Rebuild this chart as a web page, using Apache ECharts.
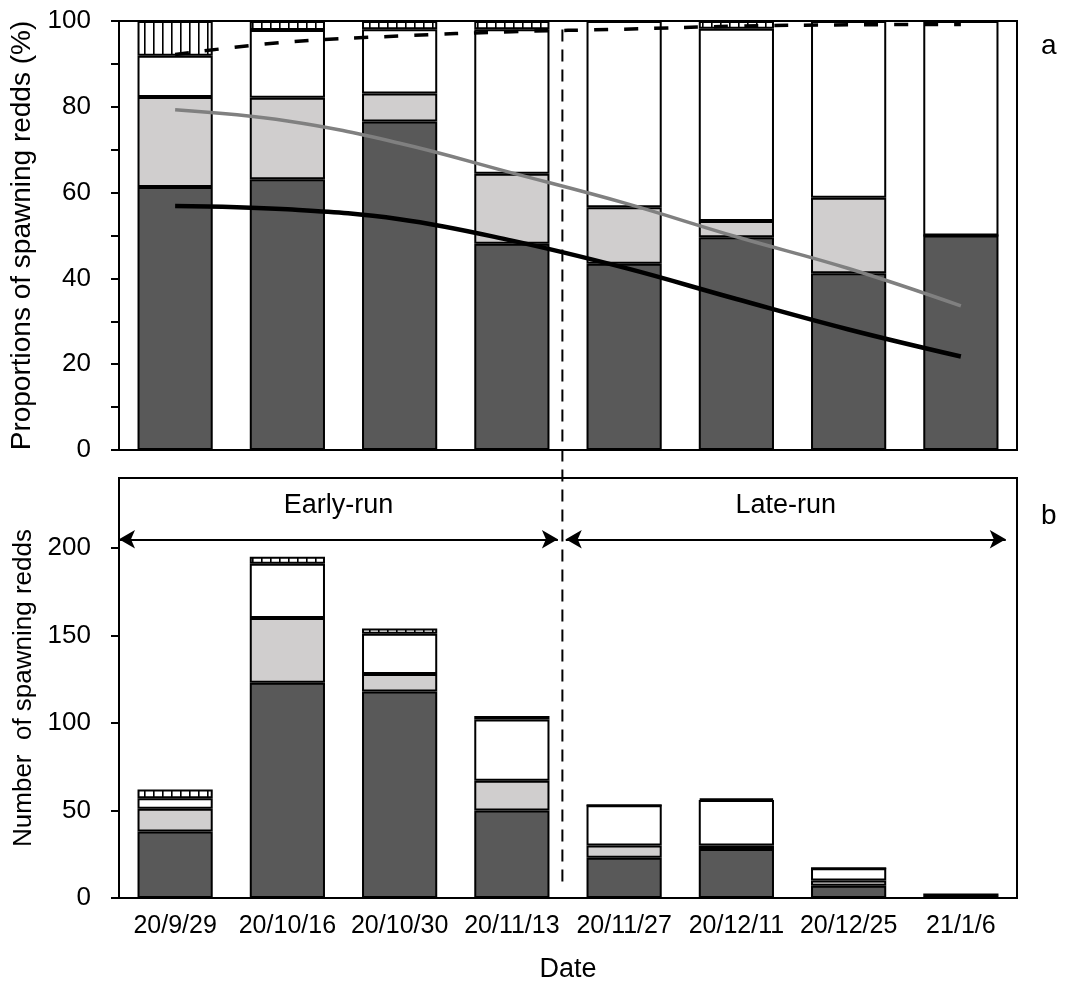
<!DOCTYPE html>
<html><head><meta charset="utf-8">
<script src="https://cdn.jsdelivr.net/npm/echarts@6/dist/echarts.min.js"></script>
<style>html,body{margin:0;padding:0;background:#fff}#c{width:1079px;height:986px}</style>
</head><body><div id="c"></div>
<script>
// ---- data ----
const categories = ['20/9/29','20/10/16','20/10/30','20/11/13','20/11/27','20/12/11','20/12/25','21/1/6'];
// panel a: proportions (%) per stacked segment
const propDark    = [61.3, 63.1, 76.6, 48.1, 43.4, 49.6, 41.2, 50.0];
const propLight   = [21.0, 19.0,  6.5, 16.3, 13.2,  3.8, 17.6,  0];
const propWhite   = [ 9.6, 15.8, 15.0, 33.7, 43.4, 44.8, 41.2, 50.0];
const propHatched = [ 8.1,  2.1,  1.9,  1.9,  0,    1.8,  0,    0];
// panel a: fitted curves (%)
const lineBlack  = [56.9, 56.1, 53.8, 48.8, 42.5, 35.2, 28.1, 21.8];
const lineGray   = [79.3, 76.7, 71.5, 64.6, 57.6, 49.7, 42.3, 33.6];
const lineDashed = [92.2, 95.1, 96.5, 97.5, 98.1, 98.8, 99.1, 99.2];
// panel b: counts per stacked segment
const cntDark    = [38, 123, 118, 50, 23, 28, 7, 1];
const cntLight   = [13,  37,  10, 17,  7,  2, 3, 0];
const cntWhite   = [ 6,  31,  23, 35, 23, 26, 7, 1];
const cntHatched = [ 5,   4,   3,  2,  0,  1, 0, 0];
// annotations (value-axis positions, category index units)
const runLabels = ['Early-run', 'Late-run'];
const earlyRange = [-0.5, 3.41];
const lateRange  = [3.48, 7.40];
const arrowY = 205;
const dividerX = 3.45;
const dividerTopPct = 98;
const dividerBottomCnt = 5;
const yTicksA = [0,10,20,30,40,50,60,70,80,90,100];
const yLabelsA = [0,20,40,60,80,100];
const yTicksB = [0,50,100,150,200];

// ---- chart ----
const FONT = '"Liberation Sans", Arial, sans-serif';
const chart = echarts.init(document.getElementById('c'), null, {renderer:'canvas'});

function hatchPattern(){
  const c = document.createElement('canvas');
  c.width = 9; c.height = 9;
  const ctx = c.getContext('2d');
  ctx.fillStyle = '#fff'; ctx.fillRect(0,0,9,9);
  ctx.fillStyle = '#000'; ctx.fillRect(0,0,1.6,9);
  return {image: c, repeat: 'repeat'};
}
const HATCH = hatchPattern();
const COLORS = ['#595959', '#d0cece', '#ffffff', HATCH];

function barSeries(name, data, color, stack, xi, yi){
  return {type:'bar', name, data, stack, xAxisIndex:xi, yAxisIndex:yi, barWidth:'67%',
    itemStyle:{color, borderColor:'#000', borderWidth:2}, z:2, silent:true};
}
const axisLineStyle = {color:'#000', width:2};

const option = {
  animation:false,
  backgroundColor:'#fff',
  textStyle:{fontFamily:FONT, color:'#000'},
  title:[
    {text:'a', left:1036, top:27, textStyle:{fontSize:28, fontWeight:'normal', fontFamily:FONT, color:'#000'}},
    {text:'b', left:1036, top:497, textStyle:{fontSize:28, fontWeight:'normal', fontFamily:FONT, color:'#000'}}
  ],
  grid:[
    {left:119, top:21, width:898, height:429, show:true, borderColor:'#000', borderWidth:2, backgroundColor:'transparent'},
    {left:119, top:478, width:898, height:420, show:true, borderColor:'#000', borderWidth:2, backgroundColor:'transparent'}
  ],
  xAxis:[
    {gridIndex:0, type:'category', data:categories, axisTick:{show:false}, axisLabel:{show:false},
      axisLine:{onZero:false, lineStyle:axisLineStyle}},
    {gridIndex:1, type:'category', data:categories, axisTick:{show:false},
      axisLabel:{interval:0, hideOverlap:false, fontSize:25, color:'#000', margin:16, fontFamily:FONT},
      axisLine:{onZero:false, lineStyle:axisLineStyle},
      name:'Date', nameLocation:'middle', nameGap:58, nameTextStyle:{fontSize:27, color:'#000', fontFamily:FONT}},
    {gridIndex:1, type:'value', min:-0.5, max:7.5, show:false},
  ],
  yAxis:[
    {gridIndex:0, type:'value', min:0, max:100, splitLine:{show:false},
      axisLine:{show:true, onZero:false, lineStyle:axisLineStyle},
      axisTick:{show:true, length:8, customValues:yTicksA, lineStyle:{color:'#000', width:2}},
      axisLabel:{customValues:yLabelsA, fontSize:26, color:'#000', margin:28, fontFamily:FONT},
      name:'Proportions of spawning redds (%)', nameLocation:'middle', nameGap:77,
      nameTextStyle:{fontSize:28, color:'#000', fontFamily:FONT}},
    {gridIndex:1, type:'value', min:0, max:240, splitLine:{show:false},
      axisLine:{show:true, onZero:false, lineStyle:axisLineStyle},
      axisTick:{show:true, length:8, customValues:yTicksB, lineStyle:{color:'#000', width:2}},
      axisLabel:{customValues:yTicksB, fontSize:26, color:'#000', margin:28, fontFamily:FONT},
      name:'Number  of spawning redds', nameLocation:'middle', nameGap:77,
      nameTextStyle:{fontSize:26, color:'#000', fontFamily:FONT}}
  ],
  series:[
    barSeries('dark', propDark, COLORS[0], 'a', 0, 0),
    barSeries('light', propLight, COLORS[1], 'a', 0, 0),
    barSeries('white', propWhite, COLORS[2], 'a', 0, 0),
    barSeries('hatched', propHatched, COLORS[3], 'a', 0, 0),
    barSeries('dark', cntDark, COLORS[0], 'b', 1, 1),
    barSeries('light', cntLight, COLORS[1], 'b', 1, 1),
    barSeries('white', cntWhite, COLORS[2], 'b', 1, 1),
    barSeries('hatched', cntHatched, COLORS[3], 'b', 1, 1),
    {type:'line', data:lineGray, xAxisIndex:0, yAxisIndex:0, smooth:0.4, symbol:'none', z:5,
      lineStyle:{color:'#808080', width:3.5}},
    {type:'line', data:lineBlack, xAxisIndex:0, yAxisIndex:0, smooth:0.4, symbol:'none', z:6,
      lineStyle:{color:'#000', width:4.5}},
    {type:'line', data:lineDashed, xAxisIndex:0, yAxisIndex:0, smooth:0.4, symbol:'none', z:6,
      lineStyle:{color:'#000', width:3.5, type:[14,16]}},
    {type:'line', data:[], xAxisIndex:2, yAxisIndex:1, z:7,
      markLine:{silent:true, animation:false, symbol:['arrow','arrow'], symbolSize:[14,16],
        lineStyle:{color:'#000', width:2, type:'solid'},
        label:{show:true, position:'middle', formatter:'{b}', fontSize:27, color:'#000', fontFamily:FONT, distance:20},
        data:[
          [{name:runLabels[0], coord:[earlyRange[0], arrowY]}, {coord:[earlyRange[1], arrowY]}],
          [{name:runLabels[1], coord:[lateRange[0], arrowY]}, {coord:[lateRange[1], arrowY]}]
        ]}}
  ]
};
chart.setOption(option);

const xPix = chart.convertToPixel({xAxisIndex:2}, dividerX);
const yTop = chart.convertToPixel({yAxisIndex:0}, dividerTopPct);
const yBot = chart.convertToPixel({yAxisIndex:1}, dividerBottomCnt);
chart.setOption({graphic:[{type:'line', z:100, silent:true,
  shape:{x1:xPix, y1:yTop, x2:xPix, y2:yBot},
  style:{stroke:'#000', lineWidth:2, lineDash:[12,8]}}]});
</script></body></html>
